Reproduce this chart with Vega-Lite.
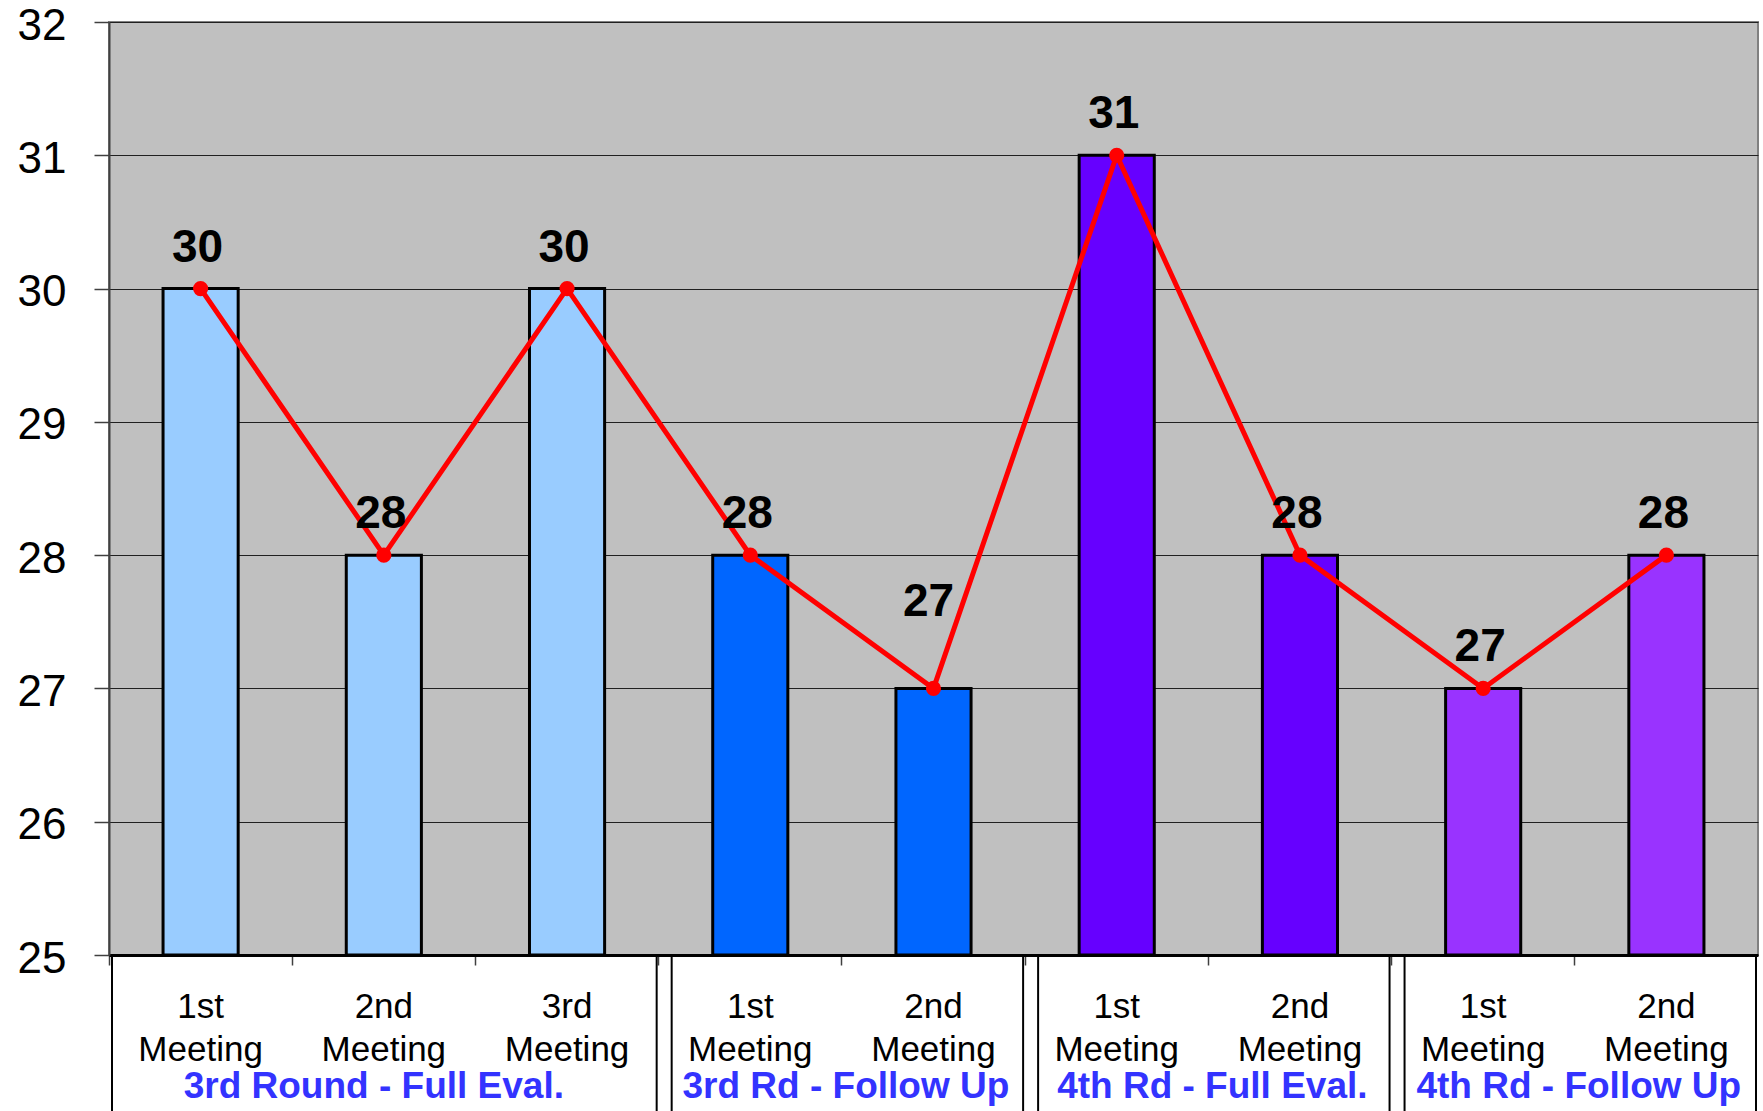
{
  "$schema": "https://vega.github.io/schema/vega-lite/v6.json",
  "autosize": {"type": "none"},
  "width": 1649,
  "height": 933,
  "padding": {"left": 109, "top": 22, "right": 5, "bottom": 156},
  "background": "white",
  "config": {
    "font": "Liberation Sans",
    "view": {"fill": "#C0C0C0", "stroke": "#808080", "strokeWidth": 2}
  },
  "data": {"values": [
      {"bar": "b1", "meeting": "1st Meeting", "group": "3rd Round - Full Eval.", "score": 30},
      {"bar": "b2", "meeting": "2nd Meeting", "group": "3rd Round - Full Eval.", "score": 28},
      {"bar": "b3", "meeting": "3rd Meeting", "group": "3rd Round - Full Eval.", "score": 30},
      {"bar": "b4", "meeting": "1st Meeting", "group": "3rd Rd - Follow Up", "score": 28},
      {"bar": "b5", "meeting": "2nd Meeting", "group": "3rd Rd - Follow Up", "score": 27},
      {"bar": "b6", "meeting": "1st Meeting", "group": "4th Rd - Full Eval.", "score": 31},
      {"bar": "b7", "meeting": "2nd Meeting", "group": "4th Rd - Full Eval.", "score": 28},
      {"bar": "b8", "meeting": "1st Meeting", "group": "4th Rd - Follow Up", "score": 27},
      {"bar": "b9", "meeting": "2nd Meeting", "group": "4th Rd - Follow Up", "score": 28}
  ]},
  "layer": [
    {
      "mark": {"type": "bar", "width": {"band": 0.41}, "stroke": "black", "strokeWidth": 3},
      "encoding": {
        "x": {
          "field": "bar", "type": "nominal", "sort": null,
          "scale": {"paddingInner": 0, "paddingOuter": 0},
          "axis": {
            "title": null, "labels": false, "bandPosition": 0,
            "domainColor": "black", "domainWidth": 3,
            "tickColor": "#404040", "tickSize": 10, "tickWidth": 1.5
          }
        },
        "y": {
          "field": "score", "type": "quantitative",
          "scale": {"domain": [25, 32], "nice": false, "zero": false},
          "axis": {
            "title": null, "values": [25, 26, 27, 28, 29, 30, 31, 32], "format": "d",
            "labelFontSize": 44, "labelColor": "black", "labelPadding": 28, "labelOffset": 4,
            "tickSize": 15, "tickColor": "#404040", "tickWidth": 1.5,
            "domainColor": "#404040", "domainWidth": 2,
            "grid": true, "gridColor": "#202020", "gridWidth": 1.2
          }
        },
        "y2": {"datum": 25},
        "color": {
          "field": "group", "type": "nominal",
          "scale": {
            "domain": ["3rd Round - Full Eval.", "3rd Rd - Follow Up", "4th Rd - Full Eval.", "4th Rd - Follow Up"],
            "range": ["#99CCFF", "#0066FF", "#6600FF", "#9933FF"]
          },
          "legend": null
        }
      }
    },
    {
      "mark": {"type": "line", "color": "#FF0000", "strokeWidth": 5},
      "encoding": {
        "x": {"field": "bar", "type": "nominal", "sort": null},
        "y": {"field": "score", "type": "quantitative"}
      }
    },
    {
      "mark": {"type": "point", "filled": true, "color": "#FF0000", "size": 230, "opacity": 1},
      "encoding": {
        "x": {"field": "bar", "type": "nominal", "sort": null},
        "y": {"field": "score", "type": "quantitative"}
      }
    },
    {
      "transform": [{"filter": "datum.bar != 'b5'"}],
      "mark": {"type": "text", "fontSize": 46, "fontWeight": "bold", "color": "black", "baseline": "alphabetic", "dy": -27, "dx": -3},
      "encoding": {
        "x": {"field": "bar", "type": "nominal", "sort": null},
        "y": {"field": "score", "type": "quantitative"},
        "text": {"field": "score", "type": "quantitative"}
      }
    },
    {
      "transform": [{"filter": "datum.bar == 'b5'"}],
      "mark": {"type": "text", "fontSize": 46, "fontWeight": "bold", "color": "black", "baseline": "alphabetic", "dy": -72, "dx": -5},
      "encoding": {
        "x": {"field": "bar", "type": "nominal", "sort": null},
        "y": {"field": "score", "type": "quantitative"},
        "text": {"field": "score", "type": "quantitative"}
      }
    },
    {
      "mark": {"type": "text", "fontSize": 35, "color": "black", "baseline": "alphabetic", "lineBreak": " ", "lineHeight": 43},
      "encoding": {
        "x": {"field": "bar", "type": "nominal", "sort": null},
        "y": {"datum": 24.527},
        "text": {"field": "meeting", "type": "nominal"}
      }
    },
    {
      "transform": [{"filter": "datum.bar == 'b2'"}],
      "mark": {"type": "text", "fontSize": 37, "fontWeight": "bold", "color": "#3333FF", "baseline": "alphabetic", "dx": -10},
      "encoding": {
        "x": {"field": "bar", "type": "nominal", "sort": null, "bandPosition": 0.5},
        "y": {"datum": 23.927},
        "text": {"field": "group", "type": "nominal"}
      }
    },
    {
      "transform": [{"filter": "datum.bar == 'b5' || datum.bar == 'b7' || datum.bar == 'b9'"}],
      "mark": {"type": "text", "fontSize": 37, "fontWeight": "bold", "color": "#3333FF", "baseline": "alphabetic", "dx": 4},
      "encoding": {
        "x": {"field": "bar", "type": "nominal", "sort": null, "bandPosition": 0},
        "y": {"datum": 23.927},
        "text": {"field": "group", "type": "nominal"}
      }
    },
    {
      "transform": [{"filter": "datum.bar == 'b4' || datum.bar == 'b6' || datum.bar == 'b8'"}],
      "mark": {"type": "rule", "color": "black", "strokeWidth": 2, "xOffset": 13},
      "encoding": {
        "x": {"field": "bar", "type": "nominal", "sort": null, "bandPosition": 0},
        "y": {"datum": 25},
        "y2": {"datum": 23.5}
      }
    },
    {
      "transform": [{"filter": "datum.bar == 'b1'"}],
      "mark": {"type": "rule", "color": "black", "strokeWidth": 2, "xOffset": 3},
      "encoding": {
        "x": {"field": "bar", "type": "nominal", "sort": null, "bandPosition": 0},
        "y": {"datum": 25},
        "y2": {"datum": 23.5}
      }
    },
    {
      "transform": [{"filter": "datum.bar == 'b3' || datum.bar == 'b5' || datum.bar == 'b7' || datum.bar == 'b9'"}],
      "mark": {"type": "rule", "color": "black", "strokeWidth": 2, "xOffset": -2},
      "encoding": {
        "x": {"field": "bar", "type": "nominal", "sort": null, "bandPosition": 1},
        "y": {"datum": 25},
        "y2": {"datum": 23.5}
      }
    }
  ]
}
